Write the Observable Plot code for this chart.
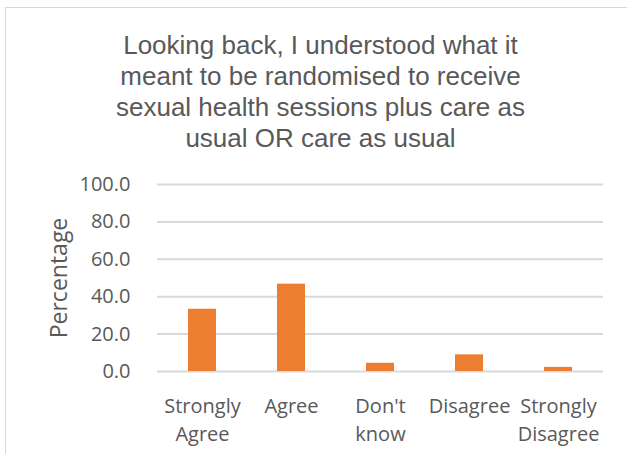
<!DOCTYPE html>
<html>
<head>
<meta charset="utf-8">
<script src="https://cdn.jsdelivr.net/npm/d3@7"></script>
<script src="https://cdn.jsdelivr.net/npm/@observablehq/plot@0.6"></script>
<style>
  html, body { margin: 0; padding: 0; background: #fff; }
  #wrap { position: relative; width: 627px; height: 454px; overflow: hidden; }
  #box { position: absolute; left: 5px; top: 7px; width: 700px; height: 500px; border: 1px solid #d9d9d9; box-sizing: border-box; }
  #title { position: absolute; left: 0; top: 30px; width: 641px; text-align: center;
           font-family: "Liberation Sans", Arial, sans-serif; font-size: 26px; line-height: 31px; color: #595959; }
  #chart { position: absolute; left: 0; top: 160px; }
</style>
</head>
<body>
<div id="wrap">
  <div id="box"></div>
  <div id="title">Looking back, I understood what it<br>meant to be randomised to receive<br>sexual health sessions plus care as<br>usual OR care as usual</div>
  <div id="chart"></div>
</div>
<script>
const categories = ["Strongly\nAgree", "Agree", "Don't\nknow", "Disagree", "Strongly\nDisagree"];
const percentages = [33.3, 46.7, 4.4, 8.9, 2.2];
const yTicks = [0, 20, 40, 60, 80, 100];
const yLabel = "Percentage";

const data = categories.map((c, i) => ({category: c, value: percentages[i]}));

const chart = Plot.plot({
  width: 627,
  height: 290,
  marginTop: 24,
  marginBottom: 79,
  marginLeft: 157,
  marginRight: 24,
  style: {fontFamily: "'Open Sans', sans-serif", fontSize: "20px", color: "#595959", background: "transparent"},
  x: {domain: categories, paddingInner: 0.686, paddingOuter: 0.343},
  y: {domain: [0, 100]},
  marks: [
    Plot.gridY(yTicks, {stroke: "#d9d9d9", strokeOpacity: 1, strokeWidth: 2}),
    Plot.axisY(yTicks, {tickSize: 0, tickPadding: 27, tickFormat: d3.format(".1f"), label: null, fill: "#595959"}),
    Plot.axisX({tickSize: 0, tickPadding: 22, lineHeight: 1.4, label: null, fill: "#595959"}),
    Plot.barY(data, {x: "category", y: "value", fill: "#ED7D31"}),
    Plot.text([yLabel], {frameAnchor: "left", text: d => d, rotate: -90, dx: -98, dy: 0, textAnchor: "middle", lineAnchor: "middle", fill: "#595959", fontSize: 23})
  ]
});
document.getElementById("chart").appendChild(chart);
</script>
</body>
</html>
